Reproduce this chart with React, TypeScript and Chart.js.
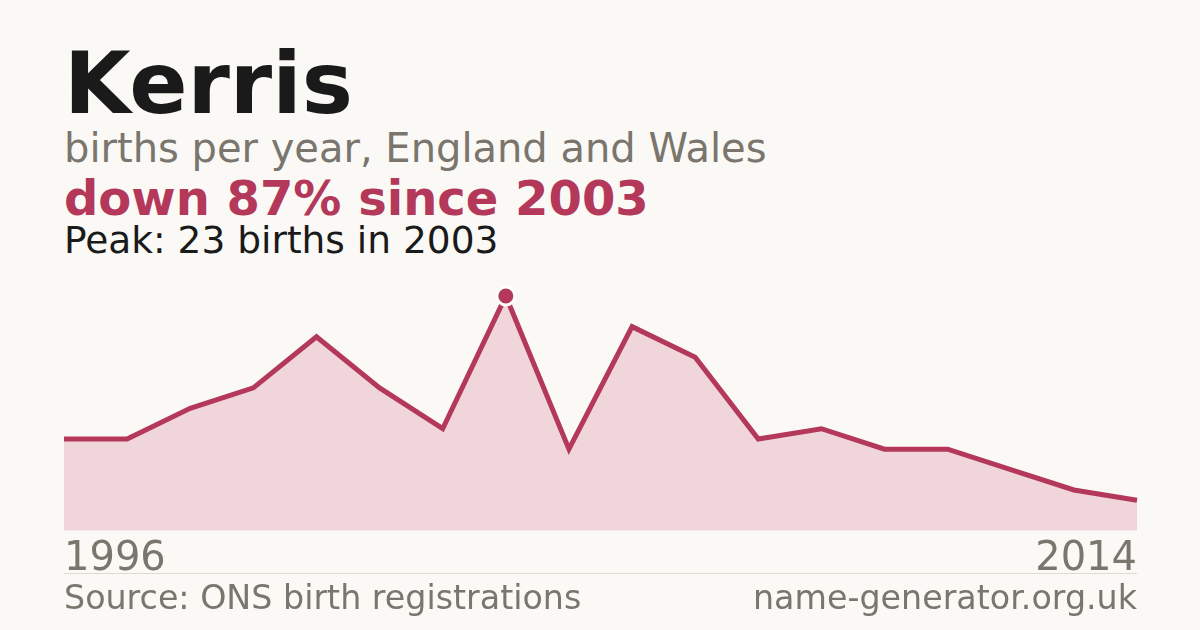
import React, { useRef, useEffect } from 'react';
import { Chart, registerables } from 'chart.js';

Chart.register(...registerables);

// Births per year for the name
const years = ['1996', '1997', '1998', '1999', '2000', '2001', '2002', '2003', '2004', '2005', '2006', '2007', '2008', '2009', '2010', '2011', '2012', '2014'];
const births = [9, 9, 12, 14, 19, 14, 10, 23, 8, 20, 17, 9, 10, 8, 8, 6, 4, 3];

const FONT = '"DejaVu Sans", sans-serif';
const CRIMSON = '#b3385a';
const GREY = '#7a756d';
const INK = '#1a1a1a';
const BG = '#faf9f5';

const peakIndex = births.indexOf(Math.max(...births));

const TrendChart: React.FC = () => {
  const canvasRef = useRef<HTMLCanvasElement>(null);
  const chartRef = useRef<Chart | null>(null);

  useEffect(() => {
    if (!canvasRef.current) return;
    const ctx = canvasRef.current.getContext('2d');
    if (!ctx) return;

    if (chartRef.current) {
      chartRef.current.destroy();
    }

    chartRef.current = new Chart(ctx, {
      type: 'line',
      data: {
        labels: years,
        datasets: [{
          data: births,
          borderColor: CRIMSON,
          backgroundColor: '#f0d5da',
          borderWidth: 5,
          fill: 'origin',
          tension: 0,
          clip: false,
          pointRadius: births.map((_, i) => (i === peakIndex ? 9 : 0)),
          pointBackgroundColor: CRIMSON,
          pointBorderColor: '#ffffff',
          pointBorderWidth: 3,
          pointHoverRadius: 0,
        }]
      },
      options: {
        responsive: false,
        animation: false,
        layout: {
          padding: { left: 64, right: 63, top: 26, bottom: 0 }
        },
        plugins: {
          legend: { display: false },
          tooltip: { enabled: false }
        },
        scales: {
          x: {
            grid: { display: false },
            border: { display: false },
            ticks: {
              autoSkip: false,
              maxRotation: 0,
              align: 'inner',
              padding: 3,
              color: GREY,
              font: { family: FONT, size: 40, lineHeight: 0.88 },
              callback: (_v, i) => (i === 0 || i === years.length - 1 ? years[i] : ''),
            }
          },
          y: {
            display: false,
            min: 0,
            max: 23,
          }
        }
      }
    });

    return () => {
      if (chartRef.current) {
        chartRef.current.destroy();
        chartRef.current = null;
      }
    };
  }, []);

  return (
    <canvas
      ref={canvasRef}
      width={1200}
      height={310}
      style={{ position: 'absolute', left: 0, top: 270, width: 1200, height: 310 }}
    />
  );
};

const text = (top: number, size: number, color: string, weight = 400): React.CSSProperties => ({
  position: 'absolute',
  top,
  left: 64,
  fontFamily: FONT,
  fontSize: size,
  lineHeight: 1,
  fontWeight: weight,
  color,
  whiteSpace: 'nowrap',
});

export default function App() {
  return (
    <div style={{ position: 'absolute', left: 0, top: 0, width: 1200, height: 630, background: BG, overflow: 'hidden' }}>
      <div style={text(40, 86, INK, 700)}>Kerris</div>
      <div style={text(128, 40, GREY)}>births per year, England and Wales</div>
      <div style={text(174, 48, CRIMSON, 700)}>down 87% since 2003</div>
      <div style={text(222, 37.5, INK)}>Peak: 23 births in 2003</div>
      <TrendChart />
      <div style={{ position: 'absolute', left: 64, top: 573, width: 1073, height: 1, background: '#dedad3' }} />
      <div style={text(581, 33.3, GREY)}>Source: ONS birth registrations</div>
      <div style={{ ...text(581, 33.3, GREY), left: 'auto', right: 63 }}>name-generator.org.uk</div>
    </div>
  );
}
